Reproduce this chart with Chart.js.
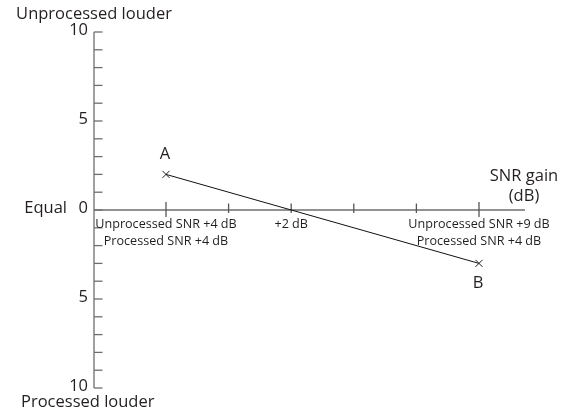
<!DOCTYPE html>
<html>
<head>
<meta charset="utf-8">
<script src="https://cdn.jsdelivr.net/npm/chart.js@4"></script>
<style>
  html, body { margin: 0; padding: 0; background: #ffffff; }
  #wrap { width: 569px; height: 413px; }
</style>
</head>
<body>
<div id="wrap"><canvas id="c" width="569" height="413"></canvas></div>
<script>
// ---- data ----
const pointNames = ['A', 'B'];
const snrGain = [0, 5];            // x: SNR gain (dB)
const loudness = [2, -3];          // y: + unprocessed louder, - processed louder
const xTickValues = [0, 1, 2, 3, 4, 5];
const xMajorTicks = [0, 5];
const xLabelValues = [0, 2, 5];
const xLabelLines = [
  ['Unprocessed SNR +4 dB', 'Processed SNR +4 dB'],
  ['+2 dB'],
  ['Unprocessed SNR +9 dB', 'Processed SNR +4 dB']
];
const yTickValues = [10, 9, 8, 7, 6, 5, 4, 3, 2, 1, 0, -1, -2, -3, -4, -5, -6, -7, -8, -9, -10];
const yLabelValues = [10, 5, 0, -5, -10];
const yLabelTexts = ['10', '5', '0', '5', '10'];
const topTitle = 'Unprocessed louder';
const bottomTitle = 'Processed louder';
const zeroTitle = 'Equal';
const xTitleLines = ['SNR gain', '(dB)'];

const FONT = '"Open Sans", "DejaVu Sans", sans-serif';
const TEXT = '#231f20';
const AXIS = '#6e6e6e';

const axesPlugin = {
  id: 'axesPlugin',
  beforeDatasetsDraw(chart) {
    const ctx = chart.ctx;
    const xs = chart.scales.x, ys = chart.scales.y;
    const x0 = xs.getPixelForValue(xs.min);
    const x1 = xs.getPixelForValue(xs.max);
    const yTop = ys.getPixelForValue(ys.max);
    const yBot = ys.getPixelForValue(ys.min);
    const yZero = ys.getPixelForValue(0);
    ctx.save();
    ctx.strokeStyle = AXIS;
    ctx.lineWidth = 1.3;
    // y axis
    ctx.beginPath();
    ctx.moveTo(x0, yTop); ctx.lineTo(x0, yBot);
    ctx.stroke();
    // y ticks (inward)
    yTickValues.forEach(v => {
      const py = ys.getPixelForValue(v);
      ctx.beginPath();
      ctx.moveTo(x0, py); ctx.lineTo(x0 + 8.5, py);
      ctx.stroke();
    });
    // x axis
    ctx.beginPath();
    ctx.moveTo(x0, yZero); ctx.lineTo(x1, yZero);
    ctx.stroke();
    // x ticks
    ctx.strokeStyle = '#555';
    xTickValues.forEach(v => {
      const px = xs.getPixelForValue(v);
      const major = xMajorTicks.includes(v);
      ctx.beginPath();
      ctx.moveTo(px, yZero - (major ? 8 : 6.5));
      ctx.lineTo(px, yZero + (major ? 7 : 3));
      ctx.stroke();
    });
    ctx.restore();
  },
  afterDraw(chart) {
    const ctx = chart.ctx;
    const xs = chart.scales.x, ys = chart.scales.y;
    const x0 = xs.getPixelForValue(xs.min);
    const x1 = xs.getPixelForValue(xs.max);
    const yZero = ys.getPixelForValue(0);
    ctx.save();
    ctx.fillStyle = TEXT;
    ctx.textBaseline = 'middle';
    // y labels
    ctx.font = '16.5px ' + FONT;
    ctx.textAlign = 'right';
    yLabelValues.forEach((v, i) => {
      ctx.fillText(yLabelTexts[i], x0 - 6, ys.getPixelForValue(v) - 2);
    });
    ctx.fillText(zeroTitle, x0 - 27, yZero - 2);
    // titles
    ctx.textAlign = 'center';
    ctx.fillText(topTitle, x0, 14);
    ctx.textAlign = 'left';
    ctx.fillText(bottomTitle, 21, 402);
    ctx.textAlign = 'center';
    ctx.fillText(xTitleLines[0], x1 - 1, yZero - 34);
    ctx.fillText(xTitleLines[1], x1 - 1, yZero - 14);
    // point names
    chart.getDatasetMeta(0).data.forEach((pt, i) => {
      const above = loudness[i] >= 0;
      ctx.fillText(pointNames[i], pt.x - 1, pt.y + (above ? -20 : 20));
    });
    // x labels
    ctx.font = '12.6px ' + FONT;
    xLabelValues.forEach((v, i) => {
      const px = xs.getPixelForValue(v);
      xLabelLines[i].forEach((line, j) => {
        ctx.fillText(line, px, yZero + 14 + j * 17);
      });
    });
    ctx.restore();
  }
};

new Chart(document.getElementById('c'), {
  type: 'scatter',
  data: {
    datasets: [{
      data: snrGain.map((x, i) => ({ x: x, y: loudness[i] })),
      showLine: true,
      borderColor: '#111111',
      borderWidth: 1,
      pointStyle: 'crossRot',
      pointRadius: 5,
      pointBorderWidth: 1,
      pointBorderColor: '#222222',
      pointBackgroundColor: '#222222'
    }]
  },
  options: {
    responsive: false,
    animation: false,
    layout: { padding: { left: 94, right: 44, top: 32, bottom: 25 } },
    plugins: { legend: { display: false }, tooltip: { enabled: false } },
    scales: {
      x: { type: 'linear', display: false, min: -1.15, max: 5.735 },
      y: { type: 'linear', display: false, min: -10, max: 10 }
    }
  },
  plugins: [axesPlugin]
});
</script>
</body>
</html>
